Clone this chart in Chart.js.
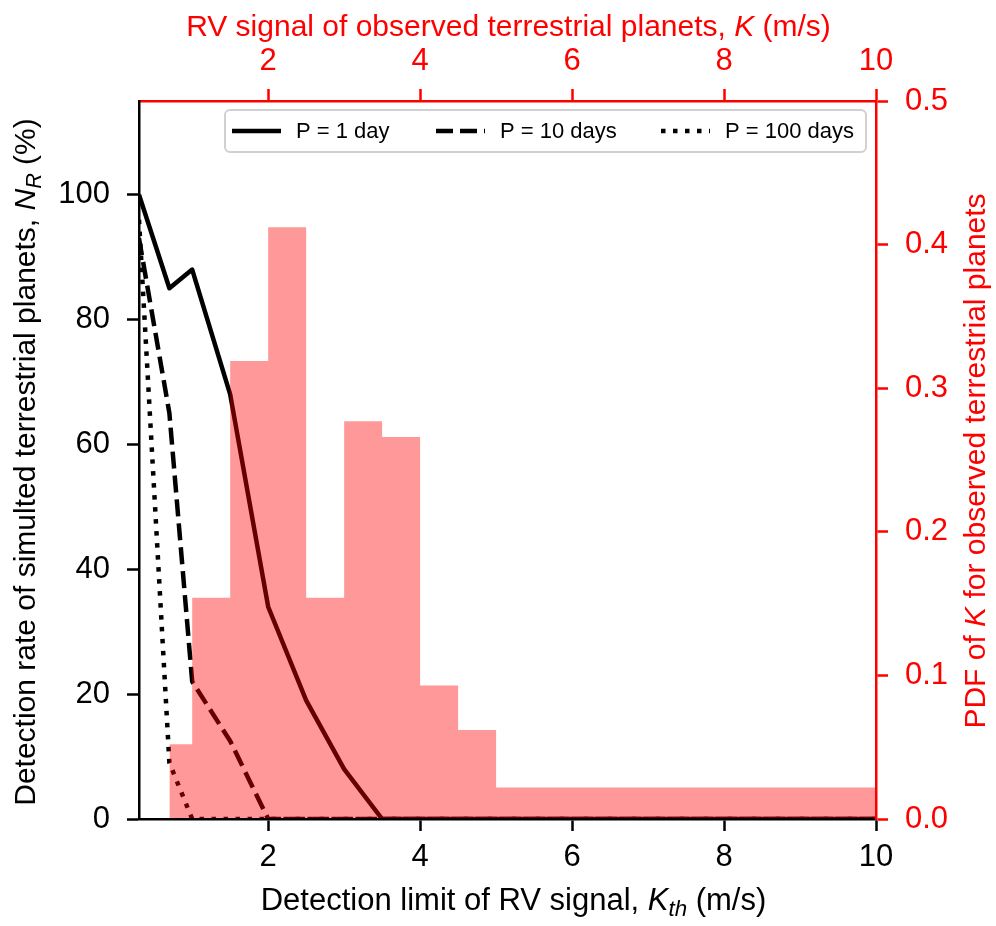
<!DOCTYPE html>
<html>
<head>
<meta charset="utf-8">
<script src="https://cdn.jsdelivr.net/npm/chart.js@4.4.1/dist/chart.umd.min.js"></script>
<style>
  html, body { margin: 0; padding: 0; background: #fff; }
  canvas { display: block; }
</style>
</head>
<body>
<canvas id="chart" width="996" height="926"></canvas>
<script>
// Detection limit grid, K_th (m/s)
const kth = [0.3, 0.7, 1.0, 1.5, 2.0, 2.5, 3.0, 3.5, 4.0, 5.0, 6.0, 7.0, 8.0, 9.0, 10.0];
// Detection rate N_R (%) for each orbital period
const rateP1 = [100, 85, 88, 68, 34, 19, 8, 0, 0, 0, 0, 0, 0, 0, 0];
const rateP10 = [93, 65, 22, 12.5, 0, 0, 0, 0, 0, 0, 0, 0, 0, 0, 0];
const rateP100 = [96, 9, 0, 0, 0, 0, 0, 0, 0, 0, 0, 0, 0, 0, 0];
// Histogram of K for observed terrestrial planets
const binEdges = [0.7, 1.0, 1.5, 2.0, 2.5, 3.0, 3.5, 4.0, 4.5, 5.0, 10.0];
const pdfK = [0.052, 0.154, 0.319, 0.412, 0.154, 0.277, 0.266, 0.093, 0.062, 0.022];
// Tick labels
const xTicks = [2, 4, 6, 8, 10];
const yTicks = [0, 20, 40, 60, 80, 100];
const pdfTicks = [0, 0.1, 0.2, 0.3, 0.4, 0.5];
const seriesLabels = ['P = 1 day', 'P = 10 days', 'P = 100 days'];

const FONT = '"Liberation Sans", Arial, "Helvetica Neue", sans-serif';
const RED = '#ff0000';

function toPoints(xs, ys) {
	return xs.map(function(x, i) { return { x: x, y: ys[i] }; });
}

// step outline for the histogram: each edge carries the height of the bin to its right
const histPoints = binEdges.map(function(e, i) {
	return { x: e, y: pdfK[Math.min(i, pdfK.length - 1)] };
});

const lineStyles = [
	{ dash: [], cap: 'butt' },
	{ dash: [17, 7], cap: 'butt' },
	{ dash: [4.5, 7.5], cap: 'butt' }
];

function setTicks(values) {
	return function(axis) {
		axis.ticks = values.map(function(v) { return { value: v }; });
	};
}

function fontStr(part, size) {
	const s = part.sub ? size * 0.72 : size;
	return (part.it ? 'italic ' : '') + s + 'px ' + FONT;
}

// draw text made of plain / italic / subscript pieces, centred on (0, 0) baseline
function drawRich(ctx, parts, size, color) {
	let total = 0;
	parts.forEach(function(p) {
		ctx.font = fontStr(p, size);
		p.w = ctx.measureText(p.t).width;
		total += p.w;
	});
	let x = -total / 2;
	ctx.fillStyle = color;
	ctx.textAlign = 'left';
	ctx.textBaseline = 'alphabetic';
	parts.forEach(function(p) {
		ctx.font = fontStr(p, size);
		ctx.fillText(p.t, x, p.sub ? size * 0.2 : 0);
		x += p.w;
	});
}

const titlesPlugin = {
	id: 'richTitles',
	afterDraw: function(chart) {
		const ctx = chart.ctx;
		const a = chart.chartArea;
		const cx = (a.left + a.right) / 2;
		const cy = (a.top + a.bottom) / 2;
		ctx.save();

		// bottom
		ctx.save();
		ctx.translate(cx + 6, 910);
		drawRich(ctx, [
			{ t: 'Detection limit of RV signal, ' },
			{ t: 'K', it: true },
			{ t: 'th', it: true, sub: true },
			{ t: ' (m/s)' }
		], 31, '#000');
		ctx.restore();

		// top
		ctx.save();
		ctx.translate(cx + 1, 36);
		drawRich(ctx, [
			{ t: 'RV signal of observed terrestrial planets, ' },
			{ t: 'K', it: true },
			{ t: ' (m/s)' }
		], 30, RED);
		ctx.restore();

		// left
		ctx.save();
		ctx.translate(35, cy + 2);
		ctx.rotate(-Math.PI / 2);
		drawRich(ctx, [
			{ t: 'Detection rate of simulted terrestrial planets, ' },
			{ t: 'N', it: true },
			{ t: 'R', it: true, sub: true },
			{ t: ' (%)' }
		], 30, '#000');
		ctx.restore();

		// right
		ctx.save();
		ctx.translate(985, cy + 1);
		ctx.rotate(-Math.PI / 2);
		drawRich(ctx, [
			{ t: 'PDF of ' },
			{ t: 'K', it: true },
			{ t: ' for observed terrestrial planets' }
		], 30, RED);
		ctx.restore();

		ctx.restore();
	}
};

// legend box in the upper right corner of the plot
const legendPlugin = {
	id: 'innerLegend',
	afterDraw: function(chart) {
		const ctx = chart.ctx;
		const box = { x: 225, y: 110, w: 641, h: 42 };
		const textX = [296, 500, 725];
		const midY = box.y + box.h / 2;
		ctx.save();
		ctx.beginPath();
		ctx.roundRect(box.x, box.y, box.w, box.h, 5);
		ctx.fillStyle = 'rgba(255,255,255,0.8)';
		ctx.fill();
		ctx.lineWidth = 2;
		ctx.strokeStyle = '#d0d0d0';
		ctx.stroke();

		seriesLabels.forEach(function(label, i) {
			const st = lineStyles[i];
			ctx.beginPath();
			ctx.setLineDash(st.dash);
			ctx.lineCap = st.cap;
			ctx.lineWidth = 4.5;
			ctx.strokeStyle = '#000';
			ctx.moveTo(textX[i] - 64, midY);
			ctx.lineTo(textX[i] - 15, midY);
			ctx.stroke();
			ctx.setLineDash([]);
			ctx.fillStyle = '#000';
			ctx.font = '22px ' + FONT;
			ctx.textAlign = 'left';
			ctx.textBaseline = 'middle';
			ctx.fillText(label, textX[i], midY + 1);
		});
		ctx.restore();
	}
};

const rateSeries = [rateP1, rateP10, rateP100];
const datasets = rateSeries.map(function(vals, i) {
	return {
		label: seriesLabels[i],
		data: toPoints(kth, vals),
		xAxisID: 'x',
		yAxisID: 'y',
		borderColor: '#000',
		borderWidth: 4.5,
		borderDash: lineStyles[i].dash,
		borderCapStyle: lineStyles[i].cap,
		borderJoinStyle: 'round',
		pointRadius: 0,
		fill: false,
		tension: 0,
		order: 1
	};
});

datasets.push({
	label: 'PDF of K',
	data: histPoints,
	xAxisID: 'x',
	yAxisID: 'y2',
	stepped: 'before',
	fill: 'origin',
	backgroundColor: 'rgba(255,0,0,0.4)',
	borderColor: 'rgba(0,0,0,0)',
	borderWidth: 0,
	pointRadius: 0,
	order: 0
});

function axisGrid(color) {
	return {
		display: true,
		drawOnChartArea: false,
		drawTicks: true,
		tickLength: 12,
		tickWidth: 2.5,
		tickColor: color,
		color: color
	};
}

new Chart(document.getElementById('chart'), {
	type: 'line',
	data: { datasets: datasets },
	plugins: [titlesPlugin, legendPlugin],
	options: {
		responsive: false,
		animation: false,
		layout: { padding: 0 },
		plugins: {
			legend: { display: false },
			tooltip: { enabled: false }
		},
		scales: {
			x: {
				type: 'linear',
				position: 'bottom',
				min: 0.3,
				max: 10,
				afterBuildTicks: setTicks(xTicks),
				afterFit: function(s) { s.height = 107; },
				grid: axisGrid('#000'),
				border: { display: true, color: '#000', width: 2.5, z: 1 },
				ticks: {
					color: '#000',
					padding: 8,
					maxRotation: 0,
					font: { family: FONT, size: 31 }
				}
			},
			x2: {
				type: 'linear',
				position: 'top',
				min: 0.3,
				max: 10,
				afterBuildTicks: setTicks(xTicks),
				afterFit: function(s) { s.height = 101; },
				grid: axisGrid(RED),
				border: { display: true, color: RED, width: 2.5, z: 1 },
				ticks: {
					color: RED,
					padding: 9,
					maxRotation: 0,
					font: { family: FONT, size: 31 }
				}
			},
			y: {
				type: 'linear',
				position: 'left',
				min: 0,
				max: 115,
				afterBuildTicks: setTicks(yTicks),
				afterFit: function(s) { s.width = 139; },
				grid: axisGrid('#000'),
				border: { display: true, color: '#000', width: 2.5, z: 1 },
				ticks: {
					color: '#000',
					padding: 17,
					font: { family: FONT, size: 31 }
				}
			},
			y2: {
				type: 'linear',
				position: 'right',
				min: 0,
				max: 0.5,
				afterBuildTicks: setTicks(pdfTicks),
				afterFit: function(s) { s.width = 120; },
				grid: axisGrid(RED),
				border: { display: true, color: RED, width: 2.5, z: 1 },
				ticks: {
					color: RED,
					padding: 17,
					font: { family: FONT, size: 31 },
					callback: function(v) { return v.toFixed(1); }
				}
			}
		}
	}
});
</script>
</body>
</html>
